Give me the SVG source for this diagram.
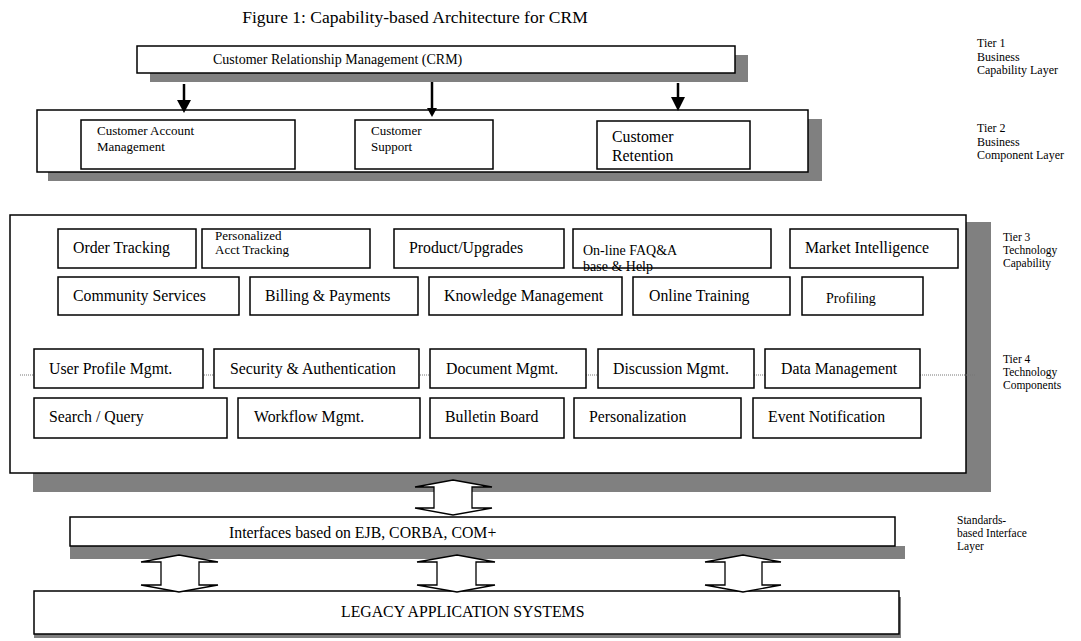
<svg xmlns="http://www.w3.org/2000/svg" width="1081" height="641" viewBox="0 0 1081 641">
  <style>
    text { font-family: "Liberation Serif", "Times New Roman", serif; fill: #000; }
    .title { font-size: 17.5px; }
    .big { font-size: 15.8px; }
    .mid { font-size: 14px; }
    .small { font-size: 13px; }
    .tier { font-size: 12px; }
    .tight { font-size: 11.5px; }
    .box { fill: #fff; stroke: #000; stroke-width: 1.5; }
    .inner { fill: #fff; stroke: #000; stroke-width: 1.5; }
    .shadow { fill: #808080; stroke: none; }
    .dbl { fill: #fff; stroke: #000; stroke-width: 1.3; stroke-linejoin: miter; }
    .down { stroke: #000; stroke-width: 2.5; fill: none; }
    .head { fill: #000; stroke: none; }
    .dots { stroke: #777; stroke-width: 1; stroke-dasharray: 1 1; fill: none; }
  </style>

  <rect width="1081" height="641" fill="#fff"/>

  <text class="title" x="415" y="23" text-anchor="middle">Figure 1: Capability-based Architecture for CRM</text>

  <!-- Tier labels -->
  <g id="tier-labels">
    <text class="tier" x="977" y="47"><tspan x="977">Tier 1</tspan><tspan x="977" dy="13.5">Business</tspan><tspan x="977" dy="13.5">Capability Layer</tspan></text>
    <text class="tier" x="977" y="132"><tspan x="977">Tier 2</tspan><tspan x="977" dy="13.5">Business</tspan><tspan x="977" dy="13.5">Component Layer</tspan></text>
    <text class="tight" x="1003" y="241"><tspan x="1003">Tier 3</tspan><tspan x="1003" dy="12.8">Technology</tspan><tspan x="1003" dy="12.8">Capability</tspan></text>
    <text class="tight" x="1003" y="363"><tspan x="1003">Tier 4</tspan><tspan x="1003" dy="12.8">Technology</tspan><tspan x="1003" dy="12.8">Components</tspan></text>
    <text class="tight" x="957" y="524"><tspan x="957">Standards-</tspan><tspan x="957" dy="12.8">based Interface</tspan><tspan x="957" dy="12.8">Layer</tspan></text>
  </g>

  <!-- Tier 1: business capability -->
  <g id="crm">
    <rect class="shadow" x="150" y="55" width="598" height="27"/>
    <rect class="box" x="137" y="46" width="598" height="27"/>
    <text class="mid" x="213" y="64">Customer Relationship Management (CRM)</text>
  </g>

  <!-- Tier 2: business components -->
  <g id="tier2">
    <rect class="shadow" x="48" y="119" width="774" height="62"/>
    <rect class="box" x="37" y="110" width="771" height="62"/>
  </g>
  <g id="customer-account-management">
    <rect class="inner" x="81" y="120" width="214" height="49"/>
    <text class="small" x="97" y="135"><tspan x="97">Customer Account</tspan><tspan x="97" dy="16">Management</tspan></text>
  </g>
  <g id="customer-support">
    <rect class="inner" x="355" y="120" width="138" height="49"/>
    <text class="small" x="371" y="135"><tspan x="371">Customer</tspan><tspan x="371" dy="16">Support</tspan></text>
  </g>
  <g id="customer-retention">
    <rect class="inner" x="597" y="121" width="153" height="48"/>
    <text class="big" x="612" y="142"><tspan x="612">Customer</tspan><tspan x="612" dy="19">Retention</tspan></text>
  </g>

  <!-- Tiers 3 and 4: technology -->
  <g id="tier3-4">
    <rect class="shadow" x="33" y="222" width="958" height="270"/>
    <rect class="box" x="10" y="215" width="956" height="258"/>
    <line class="dots" x1="20" y1="375" x2="975" y2="375"/>
  </g>

  <g id="order-tracking"><rect class="inner" x="58" y="229" width="138" height="39"/><text class="big" x="73" y="253">Order Tracking</text></g>
  <g id="personalized-acct-tracking"><rect class="inner" x="202" y="229" width="168" height="39"/><text class="small" x="215" y="240"><tspan x="215">Personalized</tspan><tspan x="215" dy="13.5">Acct Tracking</tspan></text></g>
  <g id="product-upgrades"><rect class="inner" x="394" y="229" width="170" height="39"/><text class="big" x="409" y="253">Product/Upgrades</text></g>
  <g id="faq-help"><rect class="inner" x="573" y="229" width="198" height="39"/><text class="mid" x="583" y="255"><tspan x="583">On-line FAQ&amp;A</tspan><tspan x="583" dy="15.5">base &amp; Help</tspan></text></g>
  <g id="market-intelligence"><rect class="inner" x="790" y="229" width="168" height="39"/><text class="big" x="805" y="253">Market Intelligence</text></g>

  <g id="community-services"><rect class="inner" x="58" y="277" width="181" height="38"/><text class="big" x="73" y="301">Community Services</text></g>
  <g id="billing-payments"><rect class="inner" x="250" y="277" width="168" height="38"/><text class="big" x="265" y="301">Billing &amp; Payments</text></g>
  <g id="knowledge-management"><rect class="inner" x="429" y="277" width="193" height="38"/><text class="big" x="444" y="301">Knowledge Management</text></g>
  <g id="online-training"><rect class="inner" x="633" y="277" width="157" height="38"/><text class="big" x="649" y="301">Online Training</text></g>
  <g id="profiling"><rect class="inner" x="802" y="277" width="121" height="38"/><text class="mid" x="826" y="303">Profiling</text></g>

  <g id="user-profile-mgmt"><rect class="inner" x="34" y="349" width="169" height="39"/><text class="big" x="49" y="374">User Profile Mgmt.</text></g>
  <g id="security-authentication"><rect class="inner" x="214" y="349" width="205" height="39"/><text class="big" x="230" y="374">Security &amp; Authentication</text></g>
  <g id="document-mgmt"><rect class="inner" x="430" y="349" width="156" height="39"/><text class="big" x="446" y="374">Document Mgmt.</text></g>
  <g id="discussion-mgmt"><rect class="inner" x="598" y="349" width="156" height="39"/><text class="big" x="613" y="374">Discussion Mgmt.</text></g>
  <g id="data-management"><rect class="inner" x="765" y="349" width="155" height="39"/><text class="big" x="781" y="374">Data Management</text></g>

  <g id="search-query"><rect class="inner" x="34" y="398" width="193" height="40"/><text class="big" x="49" y="422">Search / Query</text></g>
  <g id="workflow-mgmt"><rect class="inner" x="238" y="398" width="182" height="40"/><text class="big" x="254" y="422">Workflow Mgmt.</text></g>
  <g id="bulletin-board"><rect class="inner" x="430" y="398" width="134" height="40"/><text class="big" x="445" y="422">Bulletin Board</text></g>
  <g id="personalization"><rect class="inner" x="574" y="398" width="167" height="40"/><text class="big" x="589" y="422">Personalization</text></g>
  <g id="event-notification"><rect class="inner" x="753" y="398" width="168" height="40"/><text class="big" x="768" y="422">Event Notification</text></g>

  <!-- Interface layer -->
  <g id="interfaces">
    <rect class="shadow" x="70" y="546" width="835" height="13"/>
    <rect class="box" x="70" y="517" width="825" height="29" stroke-width="1"/>
    <text class="big" x="229" y="538">Interfaces based on EJB, CORBA, COM+</text>
  </g>

  <!-- Legacy systems -->
  <g id="legacy">
    <rect class="shadow" x="34" y="597" width="867" height="41"/>
    <rect class="box" x="34" y="591" width="865" height="43"/>
    <text class="big" x="341" y="617">LEGACY APPLICATION SYSTEMS</text>
  </g>

  <!-- Connectors -->
  <g id="connectors">
    <line class="down" x1="184" y1="84" x2="184" y2="101"/>
    <polygon class="head" points="177,100 191,100 184,113"/>
    <line class="down" x1="432" y1="82" x2="432" y2="109"/>
    <polygon class="head" points="427,108 437,108 432,117"/>
    <line class="down" x1="678" y1="83" x2="678" y2="98"/>
    <polygon class="head" points="671,97 685,97 678,111"/>

    <path class="dbl" d="M453,480 L492,487 L472,487 L472,508 L492,508 L453,515 L415,508 L434,508 L434,487 L415,487 Z"/>
    <path class="dbl" d="M179,555 L218,562 L199,562 L199,585 L218,585 L179,592 L141,585 L161,585 L161,562 L141,562 Z"/>
    <path class="dbl" d="M457,555 L495,562 L476,562 L476,585 L495,585 L457,592 L417,585 L437,585 L437,562 L417,562 Z"/>
    <path class="dbl" d="M743,555 L781,562 L762,562 L762,585 L781,585 L743,592 L705,585 L725,585 L725,562 L705,562 Z"/>
  </g>
</svg>
